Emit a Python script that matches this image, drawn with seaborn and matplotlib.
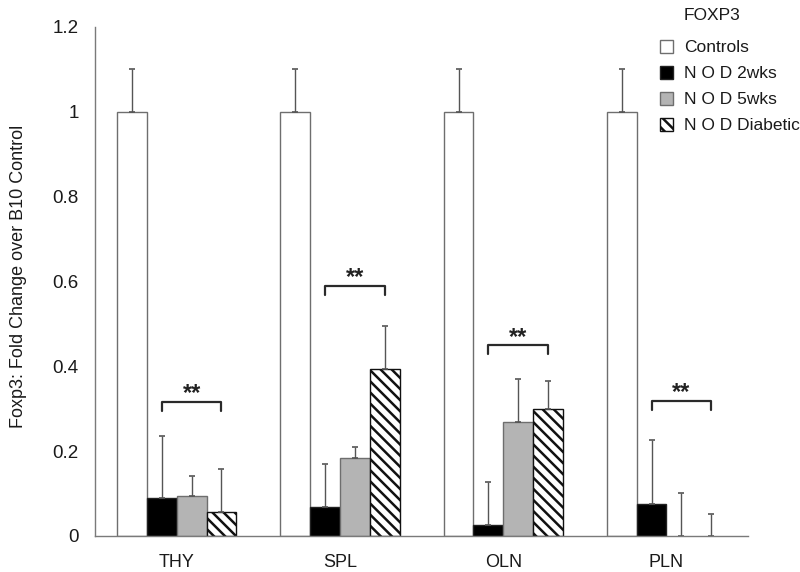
import numpy as np
import pandas as pd
import matplotlib
matplotlib.use("Agg")
import matplotlib.pyplot as plt
import seaborn as sns
from matplotlib.patches import Patch

# ===== Data =====
tissues = ["THY", "SPL", "OLN", "PLN"]
groups = ["Controls", "N O D 2wks", "N O D 5wks", "N O D Diabetic"]

controls = [1.0, 1.0, 1.0, 1.0]
nod_2wks = [0.089, 0.069, 0.027, 0.075]
nod_5wks = [0.094, 0.184, 0.268, 0.0]
nod_diabetic = [0.056, 0.393, 0.299, 0.0]

err_controls = [0.10, 0.10, 0.10, 0.10]
err_2wks = [0.147, 0.100, 0.100, 0.151]
err_5wks = [0.048, 0.025, 0.101, 0.102]
err_diabetic = [0.101, 0.101, 0.067, 0.052]

# significance brackets (2wks -> Diabetic)
bracket_y = [0.316, 0.590, 0.449, 0.318]
bracket_label = ["**", "**", "**", "**"]

yticks = [0, 0.2, 0.4, 0.6, 0.8, 1.0, 1.2]
ytick_labels = ["0", "0.2", "0.4", "0.6", "0.8", "1", "1.2"]

values = [controls, nod_2wks, nod_5wks, nod_diabetic]
errors = [err_controls, err_2wks, err_5wks, err_diabetic]

df = pd.DataFrame({
    "tissue": np.tile(tissues, len(groups)),
    "group": np.repeat(groups, len(tissues)),
    "value": np.concatenate(values),
})

# ===== Style =====
sns.set_style("white")
plt.rcParams["font.family"] = ["Liberation Sans", "DejaVu Sans"]
plt.rcParams["hatch.linewidth"] = 1.8

fills = ["white", "black", "#b4b4b4", "white"]
edges = ["#6e6e6e", "#222222", "#6e6e6e", "#111111"]
hatches = [None, None, None, "\\\\\\"]
axis_gray = "#7a7a7a"
text_col = "#1a1a1a"

fig = plt.figure(figsize=(8, 5.72), dpi=100)
ax = fig.add_axes([0.119, 0.063, 0.816, 0.89])

sns.barplot(data=df, x="tissue", y="value", hue="group", order=tissues,
            hue_order=groups, palette=fills, width=0.73, errorbar=None,
            legend=False, ax=ax)

bar_conts = list(ax.containers)

# bar styling + one-sided error bars
for k, cont in enumerate(bar_conts):
    xs, tops = [], []
    for bar in cont:
        bar.set_edgecolor(edges[k])
        bar.set_linewidth(1.0 if bar.get_height() > 0 else 0)
        if hatches[k]:
            bar.set_hatch(hatches[k])
        xs.append(bar.get_x() + bar.get_width() / 2)
        tops.append(bar.get_height())
    ax.errorbar(xs, tops, yerr=[np.zeros(len(tops)), errors[k]], fmt="none",
                ecolor="#555555", elinewidth=1.0, capsize=2.2, capthick=1.2,
                zorder=1)

# significance brackets
c_lo = bar_conts[1]
c_hi = bar_conts[3]
for j in range(len(tissues)):
    x0 = c_lo[j].get_x() + c_lo[j].get_width() / 2
    x1 = c_hi[j].get_x() + c_hi[j].get_width() / 2
    y = bracket_y[j]
    ax.plot([x0, x0, x1, x1], [y - 0.021, y, y, y - 0.021],
            color="#2a2a2a", lw=1.6, solid_joinstyle="round")
    ax.text((x0 + x1) / 2, y + 0.004, bracket_label[j], ha="center",
            va="baseline", fontsize=17, fontweight="bold", color="#222222")

# ===== Axes =====
ax.set_xlim(-0.5, len(tissues) - 0.5)
ax.set_ylim(0, 1.2)
ax.set_yticks(yticks)
ax.set_yticklabels(ytick_labels, fontsize=13.5, color=text_col)
ax.set_xticks(np.arange(len(tissues)) + 0.5)
ax.set_xticklabels([])
ax.set_xticks(np.arange(len(tissues)), minor=True)
ax.set_xticklabels(tissues, minor=True, fontsize=13, color=text_col)
ax.tick_params(axis="x", which="minor", length=0, pad=13)
ax.tick_params(axis="x", which="major", length=6, width=1, color=axis_gray,
               direction="out")
ax.tick_params(axis="y", length=6, width=1, color=axis_gray, direction="out",
               pad=6)
ax.set_xlabel("")
ax.set_ylabel("Foxp3: Fold Change over B10 Control", fontsize=13,
              color=text_col)
ax.yaxis.set_label_coords(-0.105, 0.51)

for side in ["top", "right"]:
    ax.spines[side].set_visible(False)
for side in ["left", "bottom"]:
    ax.spines[side].set_color(axis_gray)
    ax.spines[side].set_linewidth(1.0)

# ===== Legend =====
handles = [Patch(facecolor=fills[k], edgecolor=edges[k], hatch=hatches[k],
                 linewidth=1.0) for k in range(len(groups))]
leg = fig.legend(handles, groups, loc="upper left", bbox_to_anchor=(0.8158, 0.943),
                 frameon=False, fontsize=12.5, handlelength=0.8, handleheight=0.8,
                 handletextpad=0.6, labelspacing=0.6, borderaxespad=0)
for t in leg.get_texts():
    t.set_color(text_col)
fig.text(0.855, 0.973, "FOXP3", fontsize=12.5, ha="left", va="center",
         color=text_col)

fig.savefig("out.png", dpi=100)
plt.close(fig)
